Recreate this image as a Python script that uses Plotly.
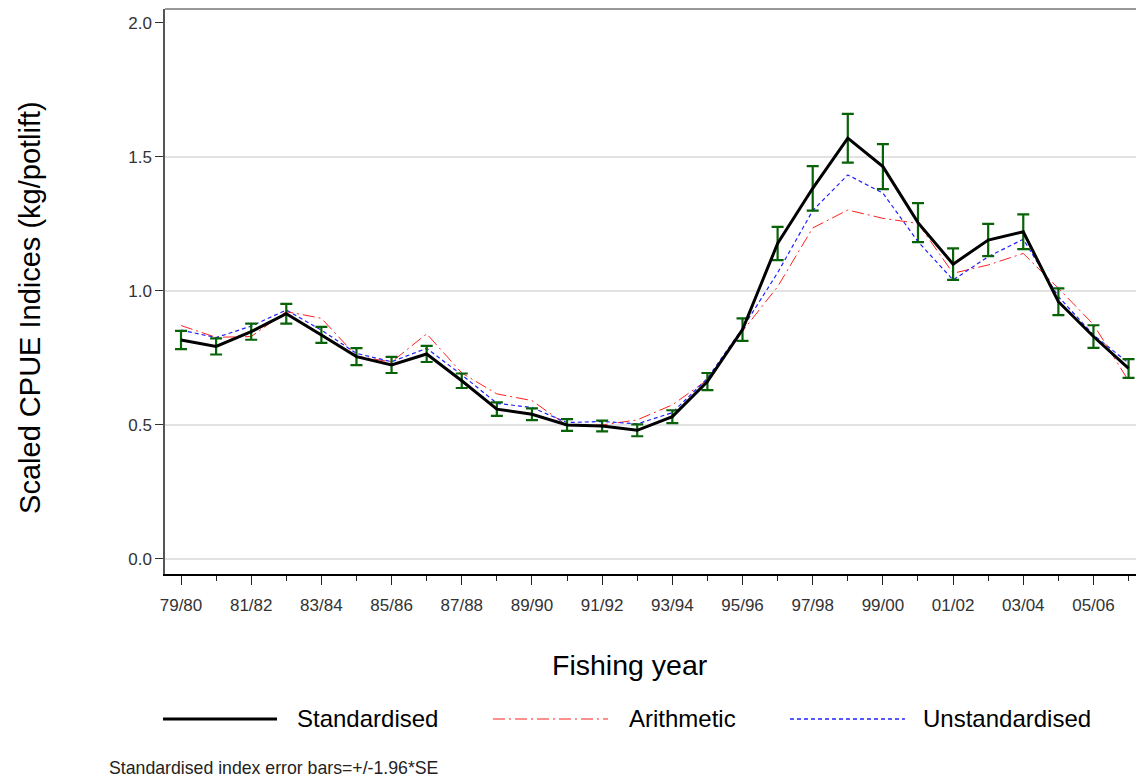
import plotly.graph_objects as go

YEARS = ["79/80", "80/81", "81/82", "82/83", "83/84", "84/85", "85/86", "86/87",
         "87/88", "88/89", "89/90", "90/91", "91/92", "92/93", "93/94", "94/95",
         "95/96", "96/97", "97/98", "98/99", "99/00", "00/01", "01/02", "02/03",
         "03/04", "04/05", "05/06", "06/07"]

STANDARDISED = [0.817, 0.793, 0.848, 0.915, 0.836, 0.755, 0.724, 0.765, 0.665, 0.559,
                0.540, 0.500, 0.496, 0.480, 0.531, 0.662, 0.856, 1.177, 1.383, 1.570,
                1.464, 1.255, 1.100, 1.190, 1.221, 0.960, 0.830, 0.711]
ERR_195SE = [0.034, 0.030, 0.030, 0.037, 0.030, 0.032, 0.030, 0.030, 0.027, 0.025,
             0.022, 0.022, 0.020, 0.022, 0.024, 0.032, 0.042, 0.062, 0.083, 0.091,
             0.084, 0.073, 0.059, 0.060, 0.065, 0.050, 0.042, 0.035]
ARITHMETIC = [0.871, 0.827, 0.830, 0.923, 0.898, 0.757, 0.735, 0.840, 0.694, 0.616,
              0.591, 0.498, 0.500, 0.519, 0.575, 0.668, 0.850, 1.016, 1.235, 1.302,
              1.271, 1.252, 1.066, 1.097, 1.140, 1.010, 0.875, 0.665]
UNSTANDARDISED = [0.854, 0.826, 0.869, 0.929, 0.854, 0.767, 0.736, 0.786, 0.687, 0.581,
                  0.565, 0.509, 0.513, 0.504, 0.546, 0.674, 0.861, 1.068, 1.300, 1.433,
                  1.365, 1.184, 1.041, 1.128, 1.193, 0.979, 0.836, 0.731]

Y_TICKS = [0.0, 0.5, 1.0, 1.5, 2.0]
GRID_LINES = [0.0, 0.5, 1.0, 1.5]

FONT = "Liberation Sans, Arial, sans-serif"
x = list(range(len(YEARS)))

RED_DASH = "12px,4px,2px,4px"
BLUE_DASH = "4px,3px"

fig = go.Figure()
fig.add_trace(go.Scatter(x=x, y=ARITHMETIC, mode="lines", name="Arithmetic",
                         line=dict(color="#ff2020", width=1, dash=RED_DASH)))
fig.add_trace(go.Scatter(x=x, y=UNSTANDARDISED, mode="lines", name="Unstandardised",
                         line=dict(color="#2020ff", width=1.2, dash=BLUE_DASH)))
fig.add_trace(go.Scatter(x=x, y=STANDARDISED, mode="lines", name="Standardised",
                         line=dict(color="black", width=3),
                         error_y=dict(type="data", array=ERR_195SE, visible=True,
                                      color="#086208", thickness=2.2, width=6)))

shapes = []
for g in GRID_LINES:
    shapes.append(dict(type="line", xref="paper", x0=0, x1=1, yref="y", y0=g, y1=g,
                       line=dict(color="#e2e2e2", width=2), layer="below"))
shapes.append(dict(type="line", xref="paper", x0=0, x1=1, yref="paper", y0=1, y1=1,
                   line=dict(color="#333", width=1.2)))

# manual legend
leg_y = -0.2566
legend_items = [
    ("Standardised", dict(color="black", width=3), -0.002, 0.1144, 0.1328),
    ("Arithmetic", dict(color="#ff2020", width=1.2, dash=RED_DASH), 0.335, 0.4525, 0.4719),
    ("Unstandardised", dict(color="#2020ff", width=1.5, dash=BLUE_DASH), 0.6384, 0.7558, 0.7722),
]
annotations = []
for name, ln, x0, x1, xt in legend_items:
    shapes.append(dict(type="line", xref="paper", yref="paper", x0=x0, x1=x1,
                       y0=leg_y, y1=leg_y, line=ln))
    annotations.append(dict(text=name, xref="paper", yref="paper", x=xt, y=leg_y,
                            xanchor="left", yanchor="middle", showarrow=False,
                            font=dict(family=FONT, size=24, color="black")))

annotations.append(dict(text="Fishing year", xref="paper", yref="paper", x=0.475, y=-0.161,
                        xanchor="center", yanchor="middle", showarrow=False,
                        font=dict(family=FONT, size=28.5, color="black")))
annotations.append(dict(text="Scaled CPUE Indices (kg/potlift)", xref="paper", yref="paper",
                        x=-0.138, y=0.4726, xanchor="center", yanchor="middle",
                        textangle=-90, showarrow=False,
                        font=dict(family=FONT, size=29, color="black")))
annotations.append(dict(text="Standardised index error bars=+/-1.96*SE", xref="paper",
                        yref="paper", x=-0.0592, y=-0.3434, xanchor="left",
                        yanchor="middle", showarrow=False,
                        font=dict(family=FONT, size=17.7, color="#222")))

# page body adds an 8px offset, so the figure is 8px smaller and shifted back
fig.update_layout(
    width=1136, height=772,
    margin=dict(l=157, r=0, t=1, b=206),
    plot_bgcolor="white", paper_bgcolor="white",
    showlegend=False,
    shapes=shapes, annotations=annotations,
    font=dict(family=FONT, size=17, color="#333"),
)
fig.update_xaxes(
    range=[-0.456, 27.44],
    tickmode="array", tickvals=x[::2], ticktext=YEARS[::2],
    ticks="outside", ticklen=9, tickwidth=1.2, tickcolor="#222",
    ticklabelstandoff=6,
    minor=dict(tickmode="array", tickvals=x[1::2], ticks="outside", ticklen=5,
               tickwidth=1.2, tickcolor="#222", showgrid=False),
    showline=True, linecolor="black", linewidth=2,
    showgrid=False, zeroline=False,
    tickfont=dict(family=FONT, size=17, color="#333"),
)
fig.update_yaxes(
    range=[-0.056, 2.052],
    tickmode="array", tickvals=Y_TICKS, tickformat=".1f",
    ticks="outside", ticklen=8, tickwidth=1.2, tickcolor="#333",
    showline=True, linecolor="#555", linewidth=1.5,
    showgrid=False, zeroline=False,
    tickfont=dict(family=FONT, size=17, color="#333"),
)

fig.write_html("out.html")
